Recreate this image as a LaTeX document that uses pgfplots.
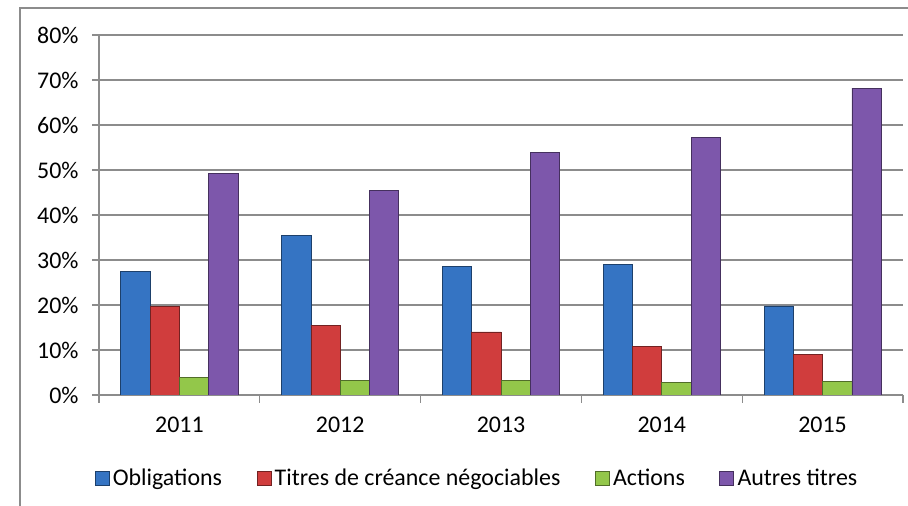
\documentclass[border=0pt]{standalone}
\usepackage{pgfplots}
\pgfplotsset{compat=1.18}
\usepackage{fontspec}
\setmainfont{Carlito}
\definecolor{cblue}{HTML}{3574C3}
\definecolor{cred}{HTML}{D03D3D}
\definecolor{cgreen}{HTML}{93C74A}
\definecolor{cpurple}{HTML}{7D57AB}
\definecolor{gridc}{HTML}{8C8C8C}
\newcommand{\fsz}{\fontsize{24}{28}\selectfont}
\begin{document}
\begin{tikzpicture}
\path[use as bounding box] (0bp,0bp) rectangle (908bp,506bp);
\draw[gridc, line width=1.6bp] (20bp,-20bp) -- (20bp,498bp) -- (930bp,498bp);
\begin{axis}[
  at={(99bp,111bp)}, anchor=south west, scale only axis,
  width=804bp, height=360bp,
  ybar=0pt, bar width=29.3bp,
  xmin=-0.5, xmax=4.5, ymin=0, ymax=80,
  xtick={0,1,2,3,4}, xticklabels={2011,2012,2013,2014,2015},
  minor xtick={-0.5,0.5,1.5,2.5,3.5,4.5},
  ytick={0,10,...,80},
  yticklabel={\pgfmathprintnumber{\tick}\%},
  /pgf/number format/assume math mode=true,
  axis x line*=bottom, axis y line*=left,
  axis line style={gridc, line width=1.3bp, -},
  ymajorgrids, grid style={gridc, line width=1.3bp},
  tick align=outside, major tick length=7bp, minor tick length=8bp,
  major x tick style={draw=none},
  minor x tick style={gridc, line width=1.3bp},
  major y tick style={gridc, line width=1.3bp},
  tick label style={font=\fsz, black},
  xticklabel style={yshift=-11bp},
  yticklabel style={xshift=-10bp},
  legend columns=4,
  legend style={at={(axis description cs:0.471,-0.2306)}, anchor=center,
    draw=none, fill=none, font=\fsz, inner sep=0pt,
    /tikz/every even column/.append style={column sep=31bp},
    nodes={inner xsep=3.5bp}},
  legend image code/.code={\fill[#1] (0bp,-7bp) rectangle (14bp,7bp);},
  every axis plot/.append style={line width=0.7bp},
]
\addplot[fill=cblue, draw=cblue!55!black] coordinates {(0,27.4) (1,35.5) (2,28.5) (3,29.0) (4,19.8)};
\addplot[fill=cred, draw=cred!55!black] coordinates {(0,19.6) (1,15.5) (2,14.0) (3,10.8) (4,9.1)};
\addplot[fill=cgreen, draw=cgreen!55!black] coordinates {(0,3.9) (1,3.2) (2,3.3) (3,2.8) (4,3.1)};
\addplot[fill=cpurple, draw=cpurple!55!black] coordinates {(0,49.3) (1,45.5) (2,54.0) (3,57.3) (4,68.2)};
\legend{Obligations, Titres de créance négociables, Actions, Autres titres}
\end{axis}
\end{tikzpicture}
\end{document}
